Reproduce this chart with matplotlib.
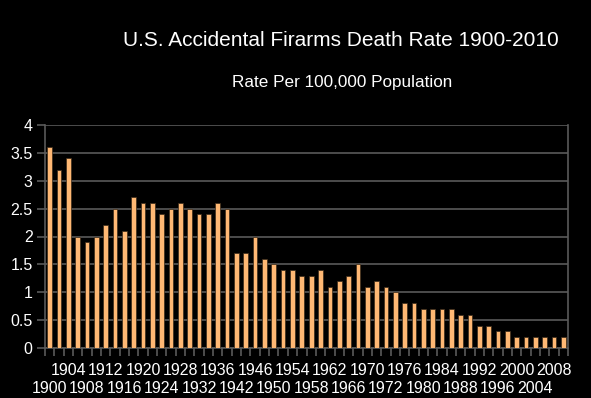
import numpy as np
import matplotlib
matplotlib.use("Agg")
import matplotlib.pyplot as plt

years = [1900, 1902, 1904, 1906, 1908, 1910, 1912, 1914, 1916, 1918,
         1920, 1922, 1924, 1926, 1928, 1930, 1932, 1934, 1936, 1940,
         1942, 1944, 1946, 1948, 1950, 1952, 1954, 1956, 1958, 1960,
         1962, 1964, 1966, 1968, 1970, 1971, 1972, 1974, 1976, 1978,
         1980, 1982, 1984, 1986, 1988, 1990, 1992, 1994, 1996, 1998,
         2000, 2002, 2004, 2006, 2008, 2010]
rates = [3.6, 3.2, 3.4, 2.0, 1.9, 2.0, 2.2, 2.5, 2.1, 2.7,
         2.6, 2.6, 2.4, 2.5, 2.6, 2.5, 2.4, 2.4, 2.6, 2.5,
         1.7, 1.7, 2.0, 1.6, 1.5, 1.4, 1.4, 1.3, 1.3, 1.4,
         1.1, 1.2, 1.3, 1.5, 1.1, 1.2, 1.1, 1.0, 0.8, 0.8,
         0.7, 0.7, 0.7, 0.7, 0.6, 0.6, 0.4, 0.4, 0.3, 0.3,
         0.2, 0.2, 0.2, 0.2, 0.2, 0.2]
y_ticks = [0, 0.5, 1, 1.5, 2, 2.5, 3, 3.5, 4]

BG = "black"
GRID = "#5a5a5a"
BAR = "#FFB874"
FONT = "Liberation Sans"

plt.rcParams['font.family'] = [FONT, 'DejaVu Sans']

fig = plt.figure(figsize=(5.91, 3.98), dpi=100, facecolor=BG)
ax = fig.add_axes([45 / 591, 1 - 348 / 398, (568 - 45) / 591, (348 - 125) / 398])
ax.set_facecolor(BG)

x = np.arange(len(years))
ax.bar(x, rates, width=0.5, color=BAR, edgecolor="#3a2a1a", linewidth=0.5, zorder=3)

ax.set_xlim(-0.5, len(years) - 0.5)
ax.set_ylim(0, 4)
ax.set_yticks(y_ticks)
ax.set_yticklabels([f"{v:g}" for v in y_ticks])
ax.yaxis.grid(True, color=GRID, linewidth=1.2, zorder=0)

# every other category gets a label, rows alternate (1900 low, 1904 high)
pos = x[::2]
ax.set_xticks(pos)
ax.set_xticklabels([str(years[p]) for p in pos])
ax.set_xticks(np.arange(-0.5, len(years)), minor=True)
ax.tick_params(axis="x", which="major", length=0, pad=11, labelsize=11.5, colors="white")
ax.tick_params(axis="x", which="minor", length=6, width=1.2, color=GRID, direction="out")
ax.tick_params(axis="y", length=6, width=1.2, color=GRID, labelsize=11.5, labelcolor="white", pad=3)
for i, t in enumerate(ax.xaxis.get_major_ticks()):
    if i % 2 == 0:
        t.set_pad(24)

for side in ["left", "bottom", "right"]:
    ax.spines[side].set_color(GRID)
    ax.spines[side].set_linewidth(1.2)
ax.spines["top"].set_visible(False)

fig.text(341 / 591, 1 - 40 / 398, "U.S. Accidental Firarms Death Rate 1900-2010",
         color="white", fontsize=15, ha="center", va="center")
fig.text(342 / 591, 1 - 82 / 398, "Rate Per 100,000 Population",
         color="white", fontsize=12.3, ha="center", va="center")

fig.savefig("out.png", dpi=100, facecolor=BG)
